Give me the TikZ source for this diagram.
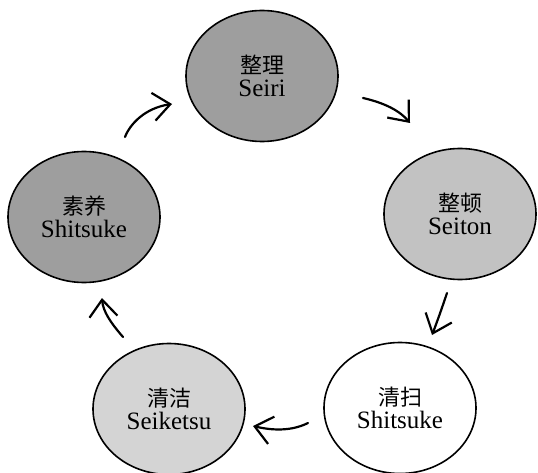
\documentclass[tikz,border=0pt]{standalone}
\usepackage{fontspec}
\setmainfont{Liberation Serif}
\newfontfamily\cjk{Noto Sans CJK SC}
\usetikzlibrary{shapes.geometric,arrows.meta}

\begin{document}
\begin{tikzpicture}[x=1pt, y=-1pt,
		step5s/.style={ellipse, draw, line width=1.6pt, minimum width=152pt, minimum height=131pt, inner sep=0pt, align=center, font=\fontsize{25}{23}\selectfont},
		hand/.style={line width=2.2pt, line cap=round, -{Straight Barb[length=17pt, width=28pt, line width=2.2pt]}}]
			\useasboundingbox (0,0) rectangle (538,473);
			\definecolor{darkgray5s}{gray}{0.62}
			\definecolor{midgray5s}{gray}{0.76}
			\definecolor{lightgray5s}{gray}{0.83}

			\node[step5s, fill=darkgray5s] (seiri) at (262,76) {{\cjk\fontsize{22}{22}\selectfont 整理}\\Seiri};
			\node[step5s, fill=midgray5s] (seiton) at (460,214) {{\cjk\fontsize{22}{22}\selectfont 整顿}\\Seiton};
			\node[step5s, fill=white] (seiso) at (400,408) {{\cjk\fontsize{22}{22}\selectfont 清扫}\\Shitsuke};
			\node[step5s, fill=lightgray5s] (seiketsu) at (169,409) {{\cjk\fontsize{22}{22}\selectfont 清洁}\\Seiketsu};
			\node[step5s, fill=darkgray5s] (shitsuke) at (84,217) {{\cjk\fontsize{22}{22}\selectfont 素养}\\Shitsuke};

			\coordinate (a1) at (363,98);  \coordinate (b1) at (410,123);
			\coordinate (a2) at (447,293); \coordinate (b2) at (432,335);
			\coordinate (a3) at (308,423); \coordinate (b3) at (253,426);
			\coordinate (a4) at (123,337); \coordinate (b4) at (102,298);
			\coordinate (a5) at (125,137); \coordinate (b5) at (172,104);

			\draw[hand] (a1) .. controls (385,103) and (400,111) .. (b1);
			\draw[hand] (a2) .. controls (442,308) and (437,322) .. (b2);
			\draw[hand] (a3) .. controls (290,432) and (270,430) .. (b3);
			\draw[hand] (a4) .. controls (110,322) and (103,311) .. (b4);
			\draw[hand] (a5) .. controls (130,124) and (145,108) .. (b5);

		\end{tikzpicture}
\end{document}
